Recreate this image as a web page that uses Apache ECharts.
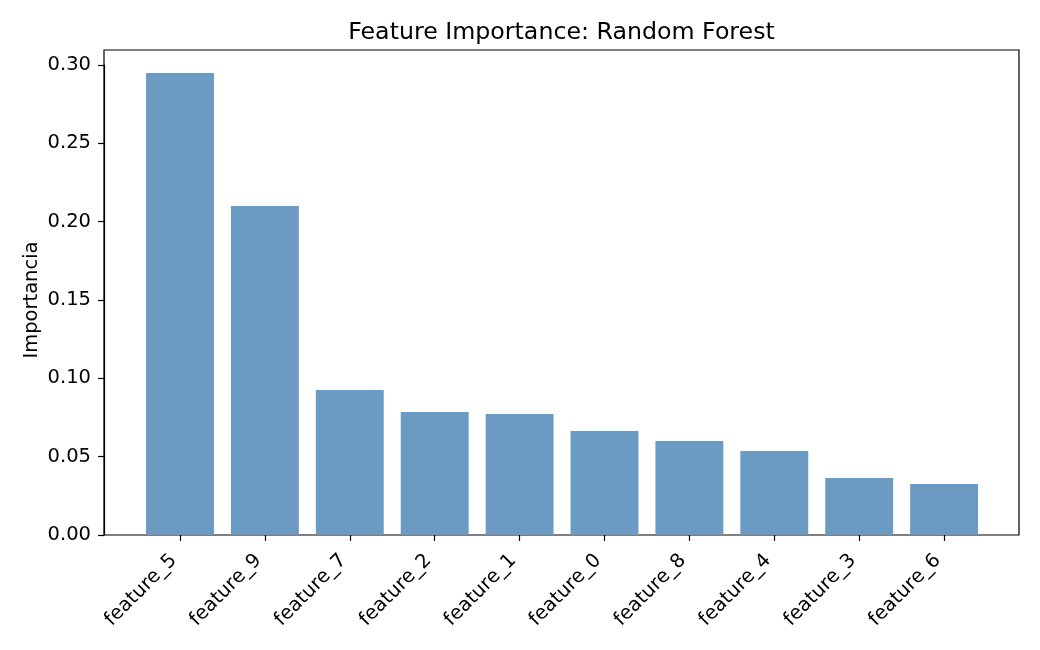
<!DOCTYPE html>
<html>
<head>
<meta charset="utf-8">
<script src="https://cdn.jsdelivr.net/npm/echarts@6/dist/echarts.min.js"></script>
<style>html,body{margin:0;padding:0;background:#fff}#c{width:1040px;height:650px}</style>
</head>
<body>
<div id="c"></div>
<script>
const categories = ['feature_5','feature_9','feature_7','feature_2','feature_1','feature_0','feature_8','feature_4','feature_3','feature_6'];
const importances = [0.2949, 0.2100, 0.0926, 0.0785, 0.0772, 0.0664, 0.0600, 0.0536, 0.0364, 0.0326];
const yMin = 0, yMax = 0.30, yStep = 0.05;

const font = 'DejaVu Sans';
const chart = echarts.init(document.getElementById('c'), null, {renderer: 'canvas'});
chart.setOption({
  animation: false,
  backgroundColor: '#fff',
  title: {
    text: 'Feature Importance: Random Forest',
    left: 561.5, top: 21, textAlign: 'center', padding: 0,
    textStyle: {fontFamily: font, fontSize: 23.7, fontWeight: 'normal', color: '#000'}
  },
  grid: [
    {left: 104, right: 21, top: 50, bottom: 115, show: true, borderColor: '#000', borderWidth: 1.2, backgroundColor: 'transparent'},
    {left: 137.55, right: 53.45, top: 65, bottom: 115},
    {left: 104, right: 21, top: 65, bottom: 115}
  ],
  xAxis: [
    {gridIndex: 0, type: 'value', min: 0, max: 1, show: false},
    {
      gridIndex: 1, type: 'category', data: categories,
      axisLine: {show: false},
      axisTick: {show: true, alignWithLabel: true, length: 6, lineStyle: {color: '#000', width: 1.2}},
      axisLabel: {
        rotate: 45, margin: 16, padding: [0, 9, 0, 0], interval: 0,
        fontFamily: font, fontSize: 19.5, color: '#000'
      },
      splitLine: {show: false}
    },
    {gridIndex: 2, type: 'value', min: 0, max: 1, show: false}
  ],
  yAxis: [
    {gridIndex: 0, type: 'value', min: 0, max: 1, show: false},
    {gridIndex: 1, type: 'value', min: yMin, max: yMax, show: false},
    {
      gridIndex: 2, type: 'value', min: yMin, max: yMax, interval: yStep,
      name: 'Importancia', nameLocation: 'middle', nameGap: 62, nameMoveOverlap: false,
      nameTextStyle: {fontFamily: font, fontSize: 19.5, color: '#000'},
      axisLine: {show: true, lineStyle: {color: '#000', width: 1.2}},
      axisTick: {show: true, inside: false, length: 6, lineStyle: {color: '#000', width: 1.2}},
      axisLabel: {margin: 13, fontFamily: font, fontSize: 19.5, color: '#000', formatter: v => v.toFixed(2)},
      splitLine: {show: false}
    }
  ],
  series: [{
    type: 'bar', xAxisIndex: 1, yAxisIndex: 1,
    data: importances,
    barWidth: '80%',
    itemStyle: {color: '#6b9bc3'}
  }]
});
</script>
</body>
</html>
